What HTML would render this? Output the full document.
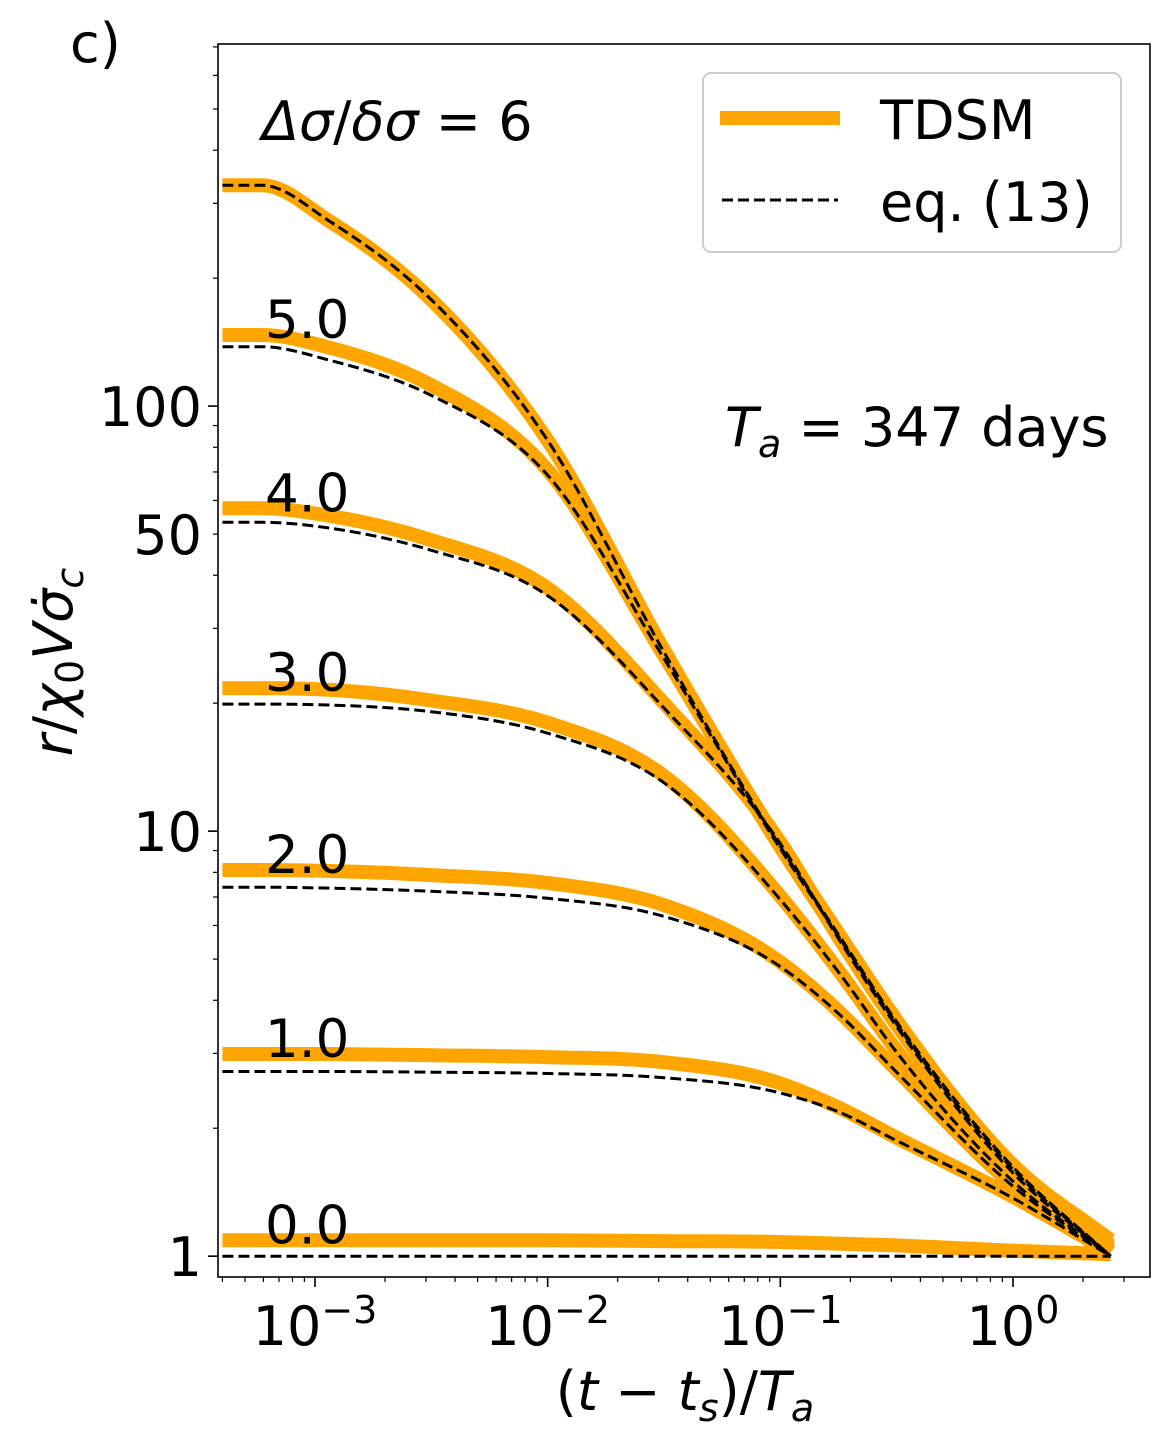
<!DOCTYPE html>
<html><head><meta charset="utf-8"><style>
body{margin:0;background:#fff}
svg{display:block}
text{font-family:"DejaVu Sans","Liberation Sans",sans-serif;fill:#000}
</style></head><body>
<svg id="chart" width="1169" height="1438" viewBox="0 0 1169 1438" xmlns="http://www.w3.org/2000/svg">
<rect x="0" y="0" width="1169" height="1438" fill="#fff"/>
<g id="marks"></g>
<g id="axes"></g>
<text x="70" y="62" font-size="54">c)</text>
<text x="262" y="140" font-size="54"><tspan font-style="italic">Δσ</tspan>/<tspan font-style="italic">δσ</tspan> = 6</text>
<text x="725" y="446" font-size="54"><tspan font-style="italic">T</tspan><tspan font-style="italic" font-size="38" dy="11">a</tspan><tspan dy="-11"> = 347 days</tspan></text>
<g>
<rect x="703" y="73" width="418" height="179" rx="8" fill="#fff" stroke="#ccc" stroke-width="2"/>
<line x1="720" y1="118" x2="840" y2="118" stroke="#ffa500" stroke-width="14"/>
<text x="880" y="139" font-size="54">TDSM</text>
<line x1="722" y1="200" x2="838" y2="200" stroke="#000" stroke-width="3" stroke-dasharray="11,5"/>
<text x="880" y="221" font-size="54">eq. (13)</text>
</g>
<text x="685" y="1410" font-size="54" text-anchor="middle">(<tspan font-style="italic">t</tspan> − <tspan font-style="italic">t</tspan><tspan font-style="italic" font-size="38" dy="11">s</tspan><tspan dy="-11">)/</tspan><tspan font-style="italic">T</tspan><tspan font-style="italic" font-size="38" dy="11">a</tspan></text>
<text transform="translate(72,662) rotate(-90)" font-size="54" text-anchor="middle"><tspan font-style="italic">r</tspan>/<tspan font-style="italic">χ</tspan><tspan font-size="38" dy="11">0</tspan><tspan font-style="italic" dy="-11">V</tspan><tspan font-style="italic">σ̇</tspan><tspan font-style="italic" font-size="38" dy="11">c</tspan></text>
</svg>
<script>
const xs = [0.0004, 0.00059, 0.00117, 0.00316, 0.01, 0.0316, 0.1, 0.18, 0.316, 1.0, 2.63];
const curveLabels = ["", "5.0", "4.0", "3.0", "2.0", "1.0", "0.0"];
const tdsm0 = [331, 331, 271, 178, 83, 26.7, 9.27, 5.69, 3.59, 1.64, 1.09];
const tdsm1 = [147, 147, 137, 112, 70.7, 25.9, 9.17, 5.63, 3.55, 1.62, 1.06];
const tdsm2 = [57.5, 57.5, 55.1, 48.4, 37.3, 20.0, 9.42, 5.57, 3.50, 1.59, 1.04];
const tdsm3 = [21.7, 21.7, 21.5, 20.3, 18.0, 13.5, 7.03, 4.66, 3.05, 1.51, 1.03];
const tdsm4 = [8.1, 8.1, 8.06, 7.88, 7.55, 6.70, 4.92, 3.75, 2.74, 1.47, 1.02];
const tdsm5 = [2.99, 2.99, 2.99, 2.97, 2.94, 2.86, 2.55, 2.23, 1.90, 1.38, 1.02];
const tdsm6 = [1.09, 1.09, 1.09, 1.09, 1.09, 1.085, 1.08, 1.07, 1.06, 1.03, 1.01];
const eq0 = [331, 331, 271, 178, 83, 26.4, 9.2, 5.65, 3.56, 1.62, 1.0];
const eq1 = [138, 138, 128, 106, 68.8, 25.5, 9.1, 5.6, 3.52, 1.6, 1.0];
const eq2 = [53.3, 53.3, 51.6, 45.8, 35.8, 19.5, 9.35, 5.53, 3.47, 1.57, 1.0];
const eq3 = [19.9, 19.9, 19.8, 19.1, 17.0, 13.0, 6.9, 4.62, 3.02, 1.5, 1.0];
const eq4 = [7.38, 7.38, 7.34, 7.22, 6.95, 6.3, 4.8, 3.70, 2.71, 1.46, 1.0];
const eq5 = [2.72, 2.72, 2.72, 2.71, 2.69, 2.63, 2.42, 2.18, 1.87, 1.37, 1.0];
const eq6 = [1.0, 1.0, 1.0, 1.0, 1.0, 1.0, 1.0, 1.0, 1.0, 1.0, 1.0];
const xTickLabels = ["-3", "-2", "-1", "0"];
const yTickValues = [1, 10, 50, 100];
const yTickLabels = ["1", "10", "50", "100"];

const L=218,R=1150,T=44,B=1277;
const xmin=-3.417,xmax=0.589,ymin=-0.049,ymax=2.852;
const X=v=>L+(Math.log10(v)-xmin)/(xmax-xmin)*(R-L);
const Y=v=>B-(Math.log10(v)-ymin)/(ymax-ymin)*(B-T);
const NS='http://www.w3.org/2000/svg';
const marks=document.getElementById('marks'), axes=document.getElementById('axes');
function mk(tag,parent,attrs){const e=document.createElementNS(NS,tag);for(const k in attrs)e.setAttribute(k,attrs[k]);parent.appendChild(e);return e;}
const tdsm=[tdsm0,tdsm1,tdsm2,tdsm3,tdsm4,tdsm5,tdsm6], eqs=[eq0,eq1,eq2,eq3,eq4,eq5,eq6];
function smoothPath(a){
  const P=a.map((v,i)=>[X(xs[i]),Y(v)]);
  const n=P.length, d=[], h=[], m=new Array(n);
  for(let i=0;i<n-1;i++){h.push(P[i+1][0]-P[i][0]); d.push((P[i+1][1]-P[i][1])/h[i]);}
  m[0]=d[0]; m[n-1]=d[n-2];
  for(let i=1;i<n-1;i++){ m[i]=(d[i-1]*h[i]+d[i]*h[i-1])/(h[i-1]+h[i]); }
  m[0]=0; m[1]=0;
  let s='M'+P[0][0].toFixed(1)+','+P[0][1].toFixed(1);
  for(let i=0;i<n-1;i++){
    const k=h[i]/3;
    s+=' C'+(P[i][0]+k).toFixed(1)+','+(P[i][1]+m[i]*k).toFixed(1)+' '+(P[i+1][0]-k).toFixed(1)+','+(P[i+1][1]-m[i+1]*k).toFixed(1)+' '+P[i+1][0].toFixed(1)+','+P[i+1][1].toFixed(1);
  }
  return s;
}
tdsm.forEach((a,i)=>{
  const p=mk('path',marks,{d:smoothPath(a),fill:'none',stroke:'#ffa500','stroke-width':14,'stroke-linejoin':'round'});
  
  
});
eqs.forEach((a,i)=>{
  const p=mk('path',marks,{d:smoothPath(a),fill:'none',stroke:'#000','stroke-width':3,'stroke-dasharray':'11,5'});
  
  
});
curveLabels.forEach((s,i)=>{
  if(!s)return;
  const t=mk('text',marks,{x:265,y:Y(tdsm[i][0])+3,'font-size':53});
  t.textContent=s;
  
  
});
const frame=mk('rect',axes,{x:L,y:T,width:R-L,height:B-T,fill:'none',stroke:'#000','stroke-width':1.6});


for(let dd=-4;dd<=0;dd++){for(let k=1;k<10;k++){const v=k*Math.pow(10,dd);const lv=Math.log10(v);if(lv<xmin||lv>xmax)continue;const x=X(v);
  const tk=mk('line',axes,{x1:x,y1:B,x2:x,y2:B+(k==1?10:5),stroke:'#000','stroke-width':k==1?1.6:1.2});
  
  }}
xTickLabels.forEach(s=>{const x=X(Math.pow(10,+s));
  const t=mk('text',axes,{x:x,y:1345,'font-size':54,'text-anchor':'middle'});
  t.innerHTML='10<tspan font-size="38" dy="-22">'+s.replace('-','−')+'</tspan>';
  
  });
for(let dd=0;dd<=2;dd++){for(let k=1;k<10;k++){const v=k*Math.pow(10,dd);const lv=Math.log10(v);if(lv<ymin||lv>ymax)continue;const y=Y(v);
  const tk=mk('line',axes,{x1:L,y1:y,x2:L-(k==1?10:5),y2:y,stroke:'#000','stroke-width':k==1?1.6:1.2});
  
  }}
yTickValues.forEach((v,i)=>{
  const t=mk('text',axes,{x:202,y:Y(v)+20,'font-size':54,'text-anchor':'end'});
  t.textContent=yTickLabels[i];
  
  });
</script>
</body></html>
